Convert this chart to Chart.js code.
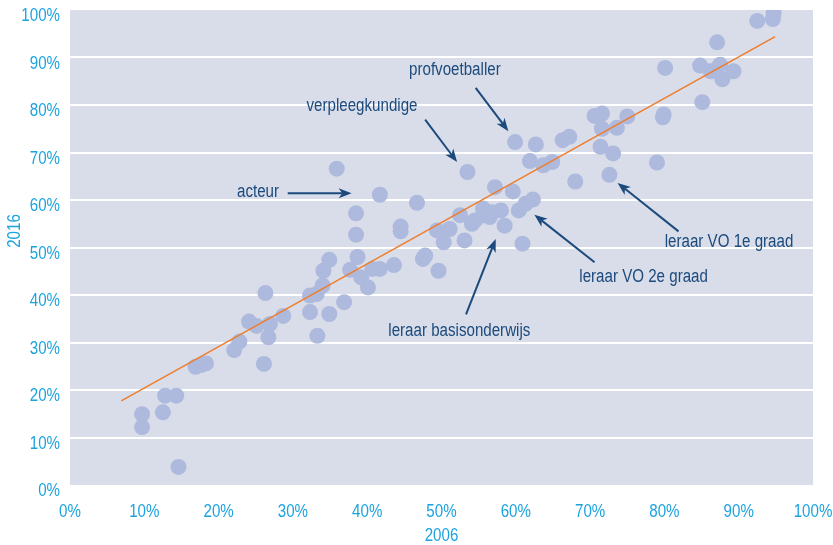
<!DOCTYPE html>
<html lang="nl">
<head>
<meta charset="utf-8">
<script src="https://cdn.jsdelivr.net/npm/chart.js@4.4.1/dist/chart.umd.min.js"></script>
<style>
  html, body { margin: 0; padding: 0; background: #fff; }
  #wrap { width: 833px; height: 545px; }
</style>
</head>
<body>
<div id="wrap"><canvas id="grafiek" width="833" height="545"></canvas></div>
<script>
// Aandeel per beroep in 2006 (x) en 2016 (y), in procenten
const aandeel2006 = [9.7, 9.7, 12.5, 12.8, 14.3, 14.6, 16.9, 17.7, 18.3, 22.1,
  22.8, 24.1, 25.1, 26.1, 26.7, 26.9, 26.3, 28.7, 32.3, 33.3,
  34.9, 36.9, 32.3, 33.2, 34.0, 34.1, 34.9, 35.9, 37.7, 38.7,
  38.5, 38.5, 39.2, 40.1, 40.7, 41.7, 41.7, 43.6, 44.5, 44.5,
  46.7, 47.5, 47.8, 49.6, 49.4, 50.3, 51.1, 52.5, 53.1, 53.5,
  54.1, 54.5, 55.6, 55.6, 56.5, 56.8, 57.2, 58.0, 58.5, 59.6,
  59.9, 60.4, 60.9, 61.3, 61.9, 62.3, 62.7, 63.7, 64.9, 66.3,
  67.2, 68.0, 70.6, 71.6, 71.6, 71.4, 72.6, 73.1, 73.6, 75.0,
  79.0, 79.8, 79.9, 80.1, 84.8, 85.1, 86.2, 87.1, 87.5, 87.8,
  89.3, 92.5, 94.6, 94.7];
const aandeel2016 = [14.9, 12.2, 15.3, 18.8, 18.8, 3.8, 24.9, 25.3, 25.6, 28.4,
  30.2, 34.4, 33.5, 25.5, 31.1, 33.9, 40.4, 35.6, 36.4, 31.4,
  36.0, 38.5, 39.9, 40.2, 42.0, 45.1, 47.4, 66.6, 45.3, 48.0,
  52.7, 57.2, 43.7, 41.6, 45.5, 45.5, 61.1, 46.3, 54.4, 53.4,
  59.4, 47.6, 48.3, 45.1, 53.6, 51.1, 53.9, 56.8, 51.5, 65.9,
  55.0, 55.7, 56.8, 58.2, 56.4, 57.4, 62.7, 57.8, 54.6, 61.8,
  72.2, 57.8, 50.8, 59.2, 68.2, 60.1, 71.7, 67.3, 68.0, 72.6,
  73.3, 63.9, 77.7, 78.2, 75.0, 71.2, 65.3, 69.8, 75.2, 77.6,
  67.9, 77.4, 78.0, 87.8, 88.3, 80.6, 87.1, 93.2, 88.5, 85.4,
  87.1, 97.7, 98.1, 99.3];

// Trendlijn (begin- en eindpunt)
const trendX = [6.9, 94.9];
const trendY = [17.7, 94.4];

const asTicks = [0, 10, 20, 30, 40, 50, 60, 70, 80, 90, 100];

// Toelichtingen: tekst, midden van de tekst, en pijl (van -> naar), in procenten
const notaTekst = ["profvoetballer", "verpleegkundige", "acteur",
  "leraar basisonderwijs", "leraar VO 2e graad", "leraar VO 1e graad"];
const notaPlek = [[51.8, 87.3], [39.3, 79.7], [25.3, 61.6], [52.4, 32.5], [77.2, 43.7], [88.7, 51.1]];
const pijlVan = [[54.6, 83.6], [47.8, 76.9], [29.3, 61.4], [53.3, 35.9], [70.6, 46.9], [81.9, 53.4]];
const pijlNaar = [[59.0, 74.5], [52.1, 68.0], [37.9, 61.4], [57.3, 51.8], [62.5, 56.9], [73.7, 63.6]];

// smalle letter: Liberation Sans, horizontaal ingedrukt
const LETTER = "18px 'Liberation Sans', Arial, sans-serif";
const SMAL = 0.84;
const BLAUW = "#1ca3de";
const DONKER = "#1c4a7c";

const achtergrond = {
  id: "achtergrond",
  beforeDraw(chart) {
    const { ctx, chartArea: a } = chart;
    ctx.save();
    ctx.fillStyle = "#d8dde9";
    ctx.fillRect(a.left, a.top, a.right - a.left, a.bottom - a.top);
    ctx.restore();
  }
};

function tekst(ctx, t, x, y, align, hoek) {
  ctx.save();
  ctx.translate(x, y);
  if (hoek) ctx.rotate(hoek);
  ctx.scale(SMAL, 1);
  ctx.textAlign = align;
  ctx.textBaseline = "middle";
  ctx.fillText(t, 0, 0);
  ctx.restore();
}

function pijl(ctx, x1, y1, x2, y2) {
  const hoek = Math.atan2(y2 - y1, x2 - x1);
  const len = 13, w = 5;
  ctx.beginPath();
  ctx.moveTo(x1, y1);
  ctx.lineTo(x2 - Math.cos(hoek) * len * 0.7, y2 - Math.sin(hoek) * len * 0.7);
  ctx.stroke();
  ctx.save();
  ctx.translate(x2, y2);
  ctx.rotate(hoek);
  ctx.beginPath();
  ctx.moveTo(0, 0);
  ctx.lineTo(-len, -w);
  ctx.lineTo(-len * 0.72, 0);
  ctx.lineTo(-len, w);
  ctx.closePath();
  ctx.fill();
  ctx.restore();
}

const toelichting = {
  id: "toelichting",
  afterDraw(chart) {
    const { ctx, chartArea: a } = chart;
    const sx = chart.scales.x, sy = chart.scales.y;
    ctx.save();
    ctx.font = LETTER;

    // aslabels
    ctx.fillStyle = BLAUW;
    asTicks.forEach(v => {
      tekst(ctx, v + "%", a.left - 10, sy.getPixelForValue(v) + 6.5, "right");
      tekst(ctx, v + "%", sx.getPixelForValue(v), a.bottom + 27, "center");
    });
    // astitels
    tekst(ctx, "2006", (a.left + a.right) / 2, a.bottom + 51, "center");
    tekst(ctx, "2016", 15, a.top + 221, "center", -Math.PI / 2);

    // toelichtingen met pijlen
    ctx.fillStyle = DONKER;
    ctx.strokeStyle = DONKER;
    ctx.lineWidth = 2;
    notaTekst.forEach((t, i) => {
      tekst(ctx, t, sx.getPixelForValue(notaPlek[i][0]), sy.getPixelForValue(notaPlek[i][1]), "center");
      pijl(ctx,
        sx.getPixelForValue(pijlVan[i][0]), sy.getPixelForValue(pijlVan[i][1]),
        sx.getPixelForValue(pijlNaar[i][0]), sy.getPixelForValue(pijlNaar[i][1]));
    });
    ctx.restore();
  }
};

new Chart(document.getElementById("grafiek"), {
  type: "scatter",
  data: {
    datasets: [
      {
        data: trendX.map((x, i) => ({ x, y: trendY[i] })),
        showLine: true,
        borderColor: "#f07d2a",
        borderWidth: 1.5,
        pointRadius: 0
      },
      {
        data: aandeel2006.map((x, i) => ({ x, y: aandeel2016[i] })),
        backgroundColor: "#adb9dd",
        borderWidth: 0,
        pointRadius: 8
      }
    ]
  },
  options: {
    responsive: false,
    animation: false,
    layout: { padding: { left: 0, top: 10, right: 20, bottom: 0 } },
    plugins: { legend: { display: false }, tooltip: { enabled: false } },
    scales: {
      x: {
        type: "linear", min: 0, max: 100,
        afterBuildTicks: s => { s.ticks = asTicks.map(v => ({ value: v })); },
        afterFit: s => { s.height = 60; s.paddingLeft = 0; s.paddingRight = 0; },
        grid: { display: false },
        border: { display: false },
        ticks: { display: false }
      },
      y: {
        type: "linear", min: 0, max: 100,
        afterBuildTicks: s => { s.ticks = asTicks.map(v => ({ value: v })); },
        afterFit: s => { s.width = 70; s.paddingTop = 0; s.paddingBottom = 0; },
        grid: {
          drawTicks: false,
          lineWidth: 2,
          color: c => (c.tick && (c.tick.value === 0 || c.tick.value === 100)) ? "rgba(0,0,0,0)" : "#ffffff"
        },
        border: { display: false },
        ticks: { display: false }
      }
    }
  },
  plugins: [achtergrond, toelichting]
});
</script>
</body>
</html>
